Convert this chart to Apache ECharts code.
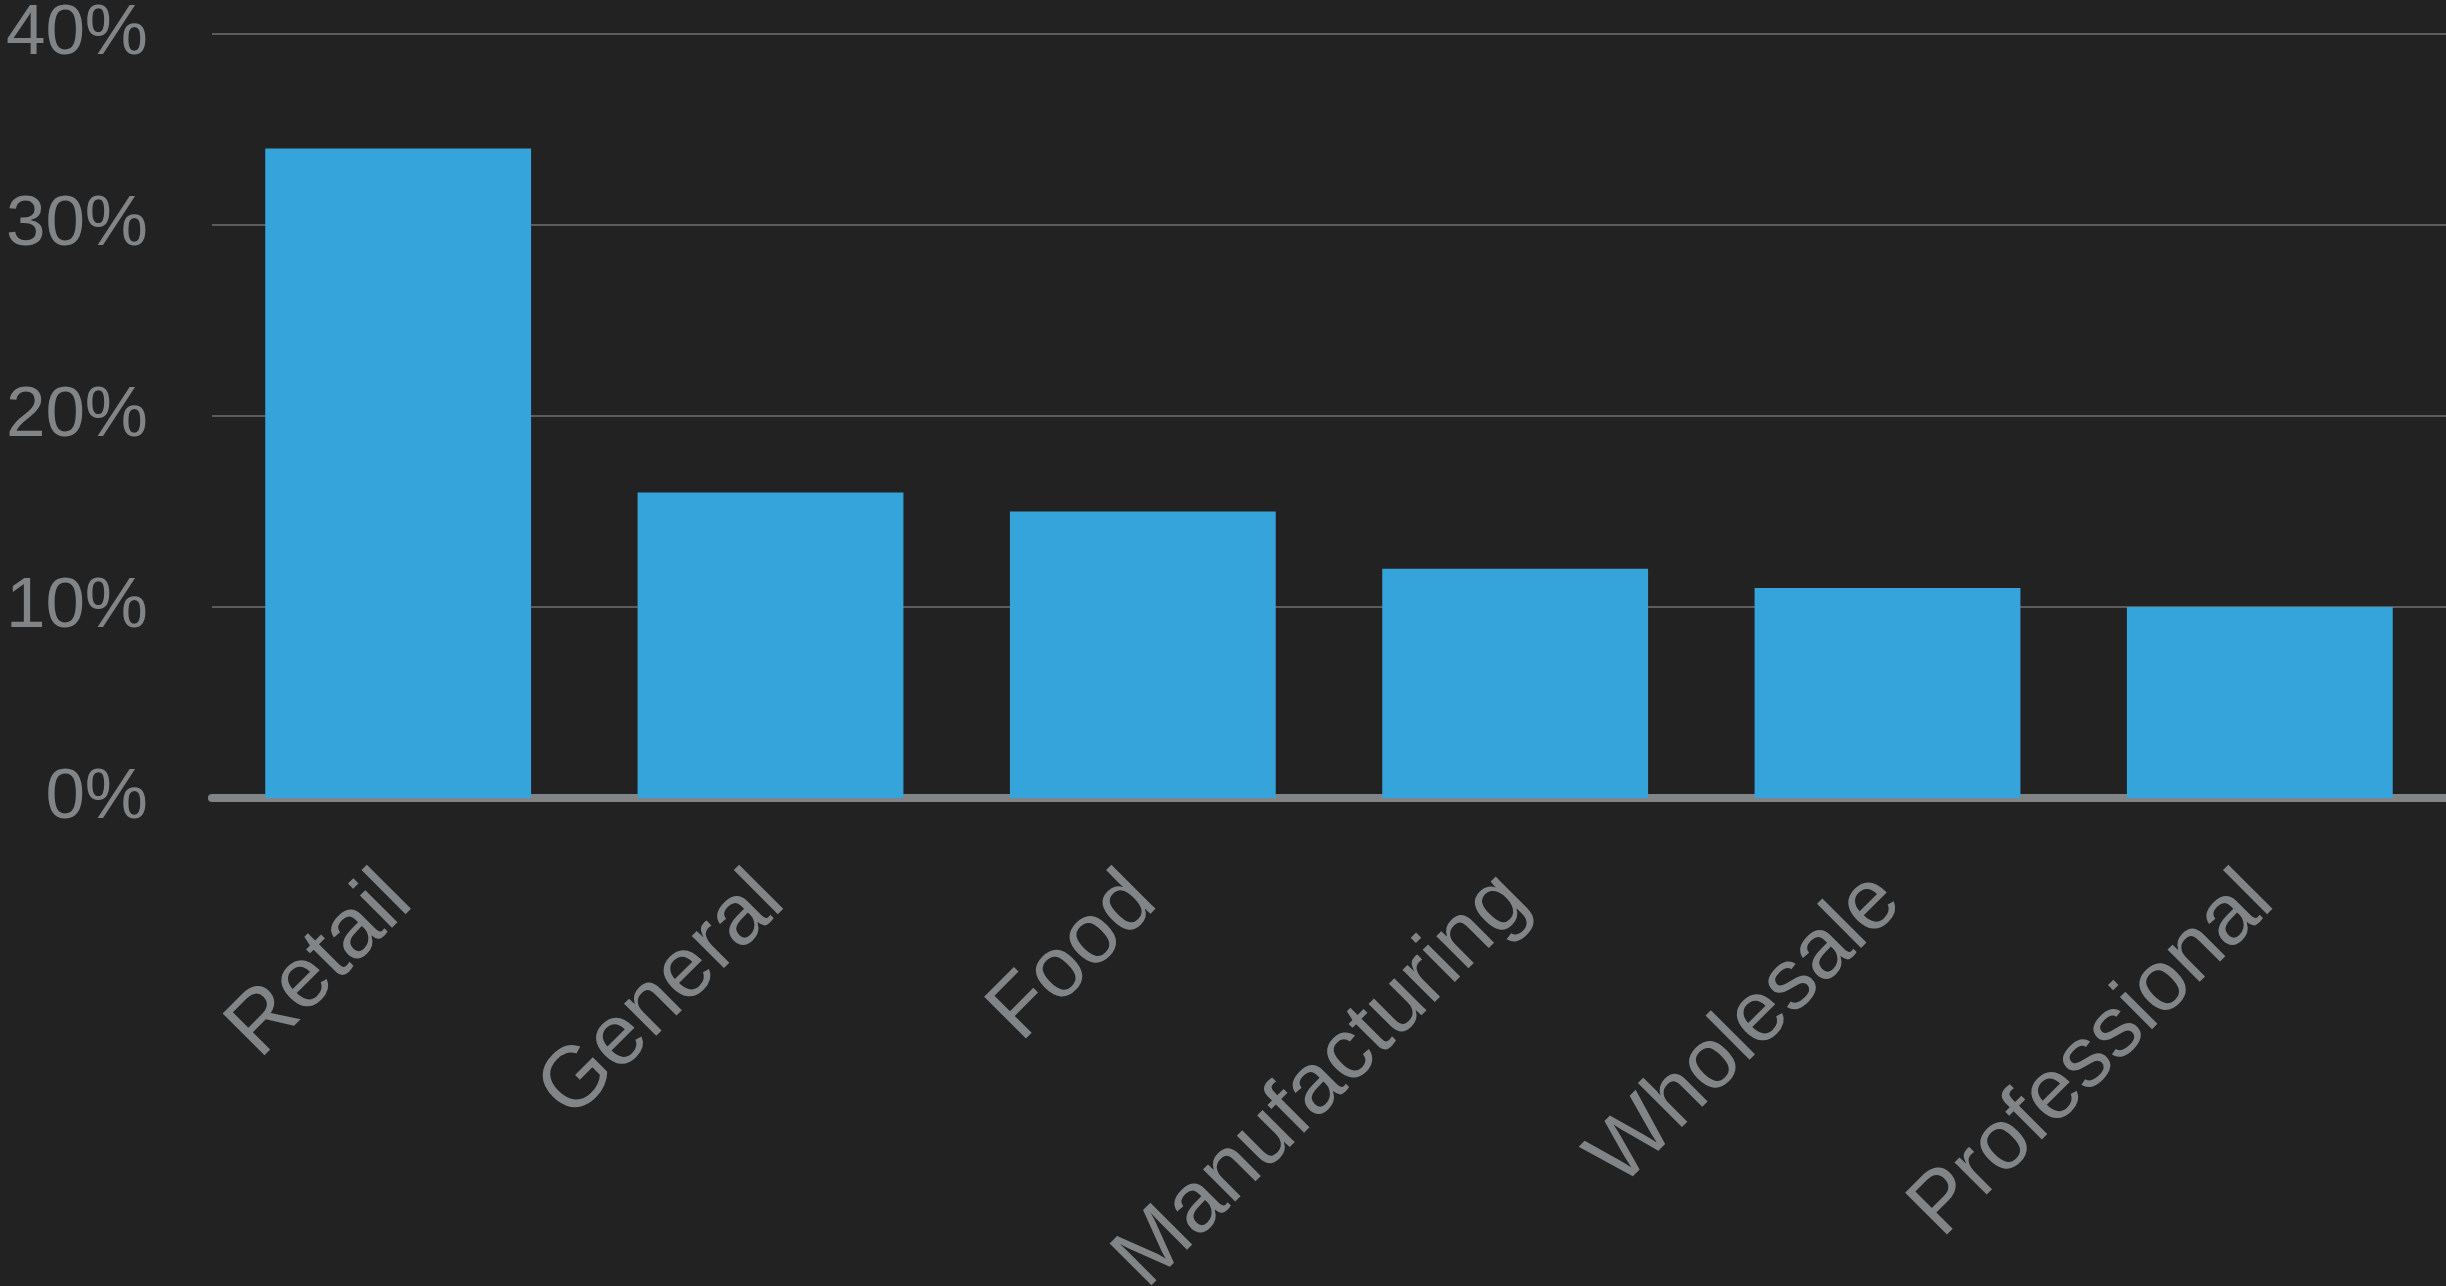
<!DOCTYPE html>
<html>
<head>
<meta charset="utf-8">
<script src="https://cdn.jsdelivr.net/npm/echarts@6/dist/echarts.min.js"></script>
<style>
html,body{margin:0;padding:0;background:#222222;}
#chart{width:2446px;height:1286px;}
</style>
</head>
<body>
<div id="chart"></div>
<script>
var categories=["Retail","General","Food","Manufacturing","Wholesale","Professional"];
var shares=[34,16,15,12,11,10];
var yTicks=[0,10,20,30,40];

var chart=echarts.init(document.getElementById("chart"));
var option={
	backgroundColor:"#222222",
	animation:false,
	grid:{left:212,right:0,top:34,bottom:488,containLabel:false,outerBoundsMode:"none"},
	xAxis:{
		type:"category",
		data:categories,
		axisTick:{show:false},
		axisLine:{lineStyle:{color:"#818587",width:8}},
		axisLabel:{
			rotate:45,
			margin:90,
			interval:0,
			color:"#818587",
			fontFamily:"Liberation Sans",
			fontSize:86
		}
	},
	yAxis:{
		type:"value",
		min:yTicks[0],
		max:yTicks[yTicks.length-1],
		interval:10,
		axisLine:{show:false},
		axisTick:{show:false},
		splitLine:{lineStyle:{color:"#5c5c5c",width:2}},
		axisLabel:{
			margin:64,
			color:"#818587",
			fontFamily:"Liberation Sans",
			fontSize:71,
			formatter:"{value}%"
		}
	},
	series:[{
		type:"bar",
		data:shares,
		barCategoryGap:"28.6%",
		itemStyle:{color:"#34a4db"}
	}]
};
chart.setOption(option);
</script>
</body>
</html>
